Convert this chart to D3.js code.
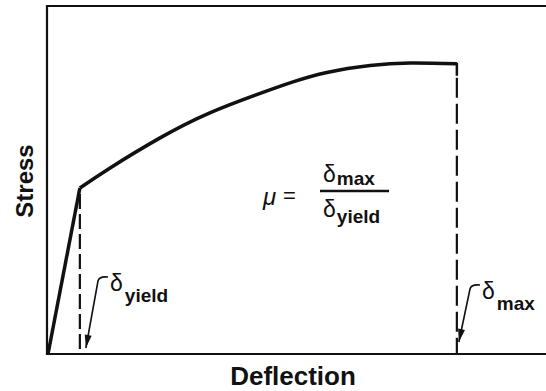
<!DOCTYPE html>
<html>
<head>
<meta charset="utf-8">
<script src="https://cdn.jsdelivr.net/npm/d3@7"></script>
<style>
  body { margin: 0; background: #fff; }
  text { font-family: "Liberation Sans", Arial, Helvetica, sans-serif; fill: #111; }
</style>
</head>
<body>
<div id="chart"></div>
<script>

// stress–deflection curve, arbitrary units (0..100 on both axes)
var deflection = [0, 6.4, 12.4, 22.5, 32.5, 42.6, 49.2, 56.0, 64.7, 72.7, 82.1];
var stress     = [0, 47.7, 53.4, 62.1, 69.3, 74.9, 78.2, 80.9, 82.9, 83.6, 83.4];
var yieldIndex = 1;
var maxIndex = 10;

var width = 546, height = 391;
var frameLeft = 47, frameTop = 6, frameBottom = 354;

var x = d3.scaleLinear().domain([0, 100]).range([frameLeft + 1, width]);
var y = d3.scaleLinear().domain([0, 100]).range([frameBottom, frameTop]);

var svg = d3.select('#chart')
    .append('svg')
    .attr('width', width)
    .attr('height', height);

// frame: top, left, bottom
svg.append('path')
    .attr('d', 'M' + width + ',' + frameTop + 'H' + frameLeft + 'V' + frameBottom + 'H' + width)
    .attr('fill', 'none')
    .attr('stroke', '#111')
    .style('stroke-width', '2.2px');

var pts = deflection.map((d, i) => [d, stress[i]]);

// elastic part is straight, the rest is a smooth curve
svg.append('path')
    .attr('d', d3.line().x(d => x(d[0])).y(d => y(d[1]))(pts.slice(0, yieldIndex + 1)))
    .attr('fill', 'none')
    .attr('stroke', '#111')
    .style('stroke-width', '3.5px');

svg.append('path')
    .attr('d', d3.line().x(d => x(d[0])).y(d => y(d[1])).curve(d3.curveNatural)(pts.slice(yieldIndex)))
    .attr('fill', 'none')
    .attr('stroke', '#111')
    .style('stroke-width', '3.5px')
    .style('stroke-linejoin', 'round');

// corner at max deflection
svg.append('line')
    .attr('x1', x(deflection[maxIndex])).attr('x2', x(deflection[maxIndex]))
    .attr('y1', y(stress[maxIndex]) - 1).attr('y2', y(stress[maxIndex]) + 12)
    .attr('stroke', '#111')
    .style('stroke-width', '2.5px');

// dashed verticals
[[yieldIndex, '15,5', 6], [maxIndex, '20,6', 14]].forEach(function (v) {
    var i = v[0];
    svg.append('line')
        .attr('x1', x(deflection[i])).attr('x2', x(deflection[i]))
        .attr('y1', y(stress[i]) + v[2]).attr('y2', frameBottom)
        .attr('stroke', '#111')
        .attr('stroke-dasharray', v[1])
        .style('stroke-width', '2.2px');
});

// labels with leader arrows
function leader(tipX, tipY, labelX, labelY, sub) {
    var g = svg.append('g');
    var hookX = labelX - 2, hookY = labelY - 14;
    g.append('path')
        .attr('d', 'M' + hookX + ',' + hookY +
            'Q' + (hookX - 9) + ',' + (hookY - 1) + ' ' + (hookX - 10) + ',' + (hookY + 4) +
            'L' + tipX + ',' + tipY)
        .attr('fill', 'none')
        .attr('stroke', '#111')
        .style('stroke-width', '1.6px');
    var ang = Math.atan2(tipY - (hookY + 4), tipX - (hookX - 10));
    var len = 13, w = 3.5;
    var bx = tipX - len * Math.cos(ang), by = tipY - len * Math.sin(ang);
    var px = -Math.sin(ang) * w, py = Math.cos(ang) * w;
    g.append('path')
        .attr('d', 'M' + tipX + ',' + tipY + 'L' + (bx + px) + ',' + (by + py) + 'L' + (bx - px) + ',' + (by - py) + 'Z')
        .attr('fill', '#111');
    var t = g.append('text').attr('x', labelX).attr('y', labelY);
    t.append('tspan').text('δ').style('font-size', '23px');
    t.append('tspan').text(sub).attr('dx', 2).attr('dy', 11)
        .style('font-size', '19px').style('font-weight', 'bold');
}

leader(x(deflection[yieldIndex]) + 6, frameBottom - 6, 110, 291, 'yield');
leader(x(deflection[maxIndex]) + 2, frameBottom - 12, 482, 299, 'max');

// ductility formula
var fx = 320, fy = 191;
svg.append('text').attr('x', 263).attr('y', fy + 14)
    .style('font-size', '24px').style('font-style', 'italic').text('μ');
svg.append('text').attr('x', 283).attr('y', fy + 12)
    .style('font-size', '22px').text('=');
svg.append('line')
    .attr('x1', fx).attr('x2', fx + 69).attr('y1', fy).attr('y2', fy)
    .attr('stroke', '#111').style('stroke-width', '2.4px');
var num = svg.append('text').attr('x', fx + 3).attr('y', fy - 9);
num.append('tspan').text('δ').style('font-size', '23px');
num.append('tspan').text('max').attr('dx', 1).attr('dy', 3)
    .style('font-size', '19px').style('font-weight', 'bold');
var den = svg.append('text').attr('x', fx + 3).attr('y', fy + 26);
den.append('tspan').text('δ').style('font-size', '23px');
den.append('tspan').text('yield').attr('dx', 1).attr('dy', 6)
    .style('font-size', '19px').style('font-weight', 'bold');

// axis titles
svg.append('text')
    .attr('x', 293).attr('y', 385)
    .attr('text-anchor', 'middle')
    .style('font-size', '26px').style('font-weight', 'bold')
    .text('Deflection');

svg.append('text')
    .attr('transform', 'translate(33,181) rotate(-90)')
    .attr('text-anchor', 'middle')
    .style('font-size', '24px').style('font-weight', 'bold')
    .text('Stress');

</script>
</body>
</html>
